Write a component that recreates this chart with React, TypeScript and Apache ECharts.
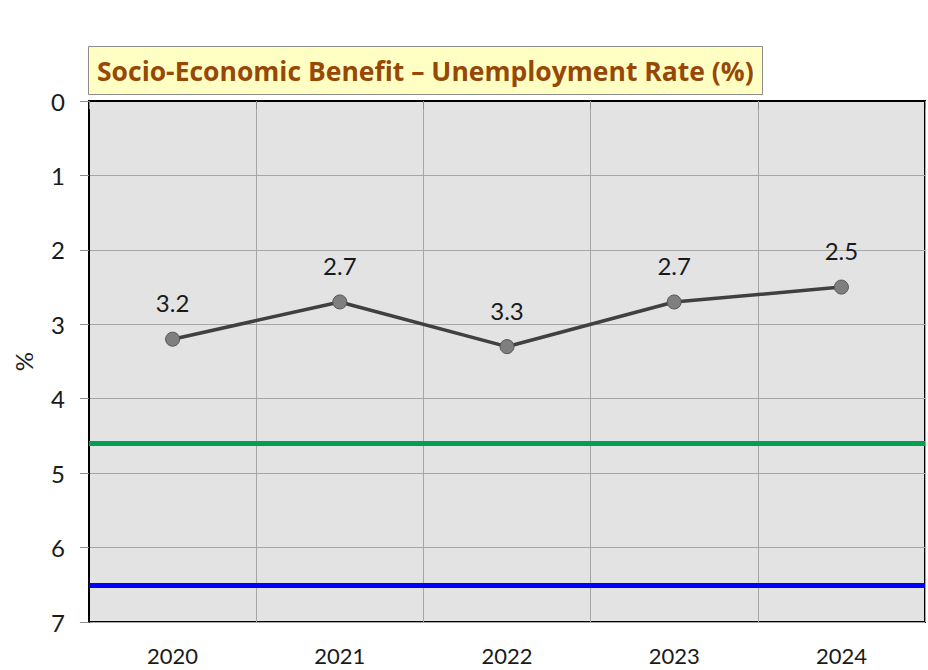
import React, { useEffect, useRef } from "react";
import * as echarts from "echarts";

const years = ["2020", "2021", "2022", "2023", "2024"];
const unemployment = [3.2, 2.7, 3.3, 2.7, 2.5];
const greenRef = [4.6];
const blueRef = [6.5];
const yTicks = [0, 1, 2, 3, 4, 5, 6, 7];

const FONT = 'Lato, "Noto Sans", sans-serif';

export default function App() {
  const ref = useRef<HTMLDivElement>(null);
  useEffect(() => {
    if (!ref.current) return;
    const chart = echarts.init(ref.current, undefined, { renderer: "svg" });
    chart.setOption({
      animation: false,
      backgroundColor: "#ffffff",
      title: {
        text: "Socio-Economic Benefit \u2013 Unemployment Rate (%)",
        left: 88,
        top: 46,
        backgroundColor: "#FFFFC4",
        borderColor: "#8c8c8c",
        borderWidth: 1,
        padding: [9, 9, 9, 9],
        textStyle: {
          fontFamily: '"Open Sans", sans-serif',
          fontSize: 26.5,
          fontWeight: "bold",
          color: "#974806",
          lineHeight: 31,
        },
      },
      grid: {
        left: 89,
        right: 3,
        top: 101,
        bottom: 48,
        outerBoundsMode: "none",
        containLabel: false,
        show: true,
        backgroundColor: "#E3E3E3",
        borderColor: "#000000",
        borderWidth: 2,
      },
      xAxis: {
        type: "category",
        data: years,
        boundaryGap: true,
        axisLine: { show: true, lineStyle: { color: "#000", width: 2 } },
        axisTick: { show: true, length: 8, alignWithLabel: false, lineStyle: { color: "#8c8c8c", width: 1 } },
        splitLine: { show: true, lineStyle: { color: "#A6A6A6", width: 1 } },
        axisLabel: { fontFamily: FONT, fontSize: 22, lineHeight: 20, color: "#1a1a1a", margin: 23 },
      },
      yAxis: {
        type: "value",
        inverse: true,
        min: yTicks[0],
        max: yTicks[yTicks.length - 1],
        interval: 1,
        name: "%",
        nameLocation: "middle",
        nameRotate: 90,
        nameGap: 54,
        nameTextStyle: { fontFamily: FONT, fontSize: 24, color: "#1a1a1a" },
        axisLine: { show: true, lineStyle: { color: "#000", width: 2 } },
        axisTick: { show: true, length: 9, lineStyle: { color: "#8c8c8c", width: 1 } },
        splitLine: { show: true, lineStyle: { color: "#A6A6A6", width: 1 } },
        axisLabel: { fontFamily: FONT, fontSize: 24, color: "#1a1a1a", margin: 24 },
      },
      series: [
        {
          type: "line",
          data: unemployment,
          symbol: "circle",
          symbolSize: 14,
          lineStyle: { color: "#404040", width: 3.5 },
          itemStyle: { color: "#7f7f7f", borderColor: "#555555", borderWidth: 1 },
          label: {
            show: true,
            position: "top",
            distance: 17,
            fontFamily: FONT,
            fontSize: 24,
            color: "#1a1a1a",
          },
          markLine: {
            silent: true,
            symbol: "none",
            label: { show: false },
            data: [
              { yAxis: greenRef[0], lineStyle: { color: "#00A050", width: 5, type: "solid" } },
              { yAxis: blueRef[0], lineStyle: { color: "#0000FF", width: 5, type: "solid" } },
            ],
          },
        },
      ],
    });
    return () => chart.dispose();
  }, []);
  return (
    <div
      ref={ref}
      style={{ position: "fixed", left: 0, top: 0, width: 928, height: 670 }}
    />
  );
}
